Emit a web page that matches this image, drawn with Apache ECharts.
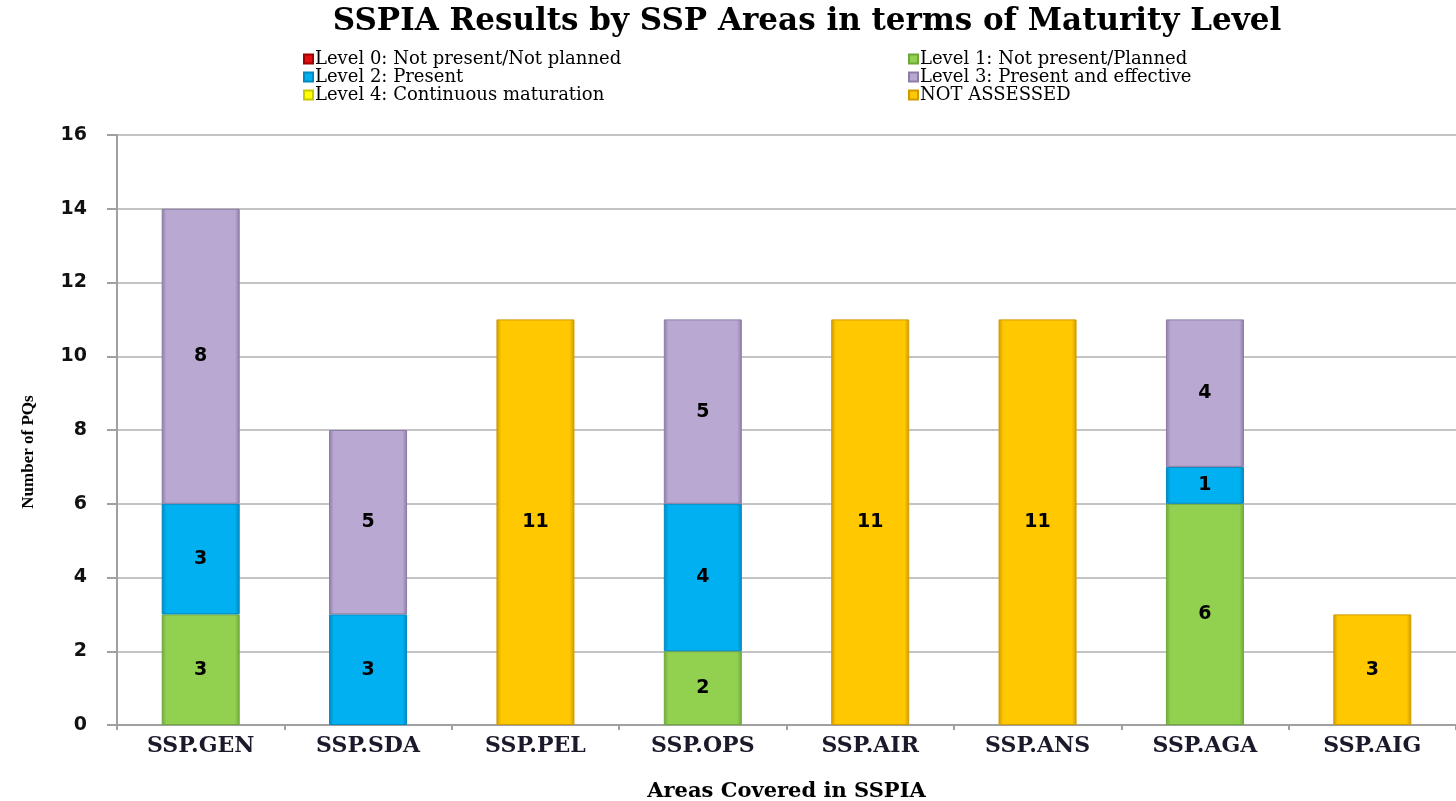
<!DOCTYPE html>
<html>
<head>
<meta charset="utf-8">
<script src="https://cdn.jsdelivr.net/npm/echarts@6/dist/echarts.min.js"></script>
<style>
  html, body { margin: 0; padding: 0; background: #fff; }
  #main { width: 1456px; height: 801px; }
</style>
</head>
<body>
<div id="main"></div>
<script>
var areas = ['SSP.GEN', 'SSP.SDA', 'SSP.PEL', 'SSP.OPS', 'SSP.AIR', 'SSP.ANS', 'SSP.AGA', 'SSP.AIG'];
var level0 = [0, 0, 0, 0, 0, 0, 0, 0];
var level1 = [3, 0, 0, 2, 0, 0, 6, 0];
var level2 = [3, 3, 0, 4, 0, 0, 1, 0];
var level3 = [8, 5, 0, 5, 0, 0, 4, 0];
var level4 = [0, 0, 0, 0, 0, 0, 0, 0];
var notAssessed = [0, 0, 11, 0, 11, 11, 0, 3];

var names = ['Level 0: Not present/Not planned', 'Level 1: Not present/Planned',
  'Level 2: Present', 'Level 3: Present and effective',
  'Level 4: Continuous maturation', 'NOT ASSESSED'];
var colors = ['#E01010', '#92D050', '#00B0F0', '#B9A8D2', '#FFFF00', '#FFC800'];
var edges = ['#A00000', '#6FA83A', '#0088C0', '#8C7CA6', '#C8C800', '#D09A00'];

function bevel(c, e) {
  return new echarts.graphic.LinearGradient(0, 0, 1, 0, [
    { offset: 0, color: e },
    { offset: 0.06, color: c },
    { offset: 0.94, color: c },
    { offset: 1, color: e }
  ]);
}

var allData = [level0, level1, level2, level3, level4, notAssessed];
var series = [];
for (var i = 0; i < 6; i++) {
  series.push({
    name: names[i],
    type: 'bar',
    stack: 'total',
    barWidth: 78,
    // zero counts are left empty so no flat segment is drawn
    data: allData[i].map(function (v) { return v === 0 ? '-' : v; }),
    itemStyle: { color: bevel(colors[i], edges[i]), borderColor: edges[i], borderWidth: 1 },
    label: {
      show: true,
      position: 'inside',
      color: '#000',
      fontFamily: 'DejaVu Sans',
      fontWeight: 'bold',
      fontSize: 19
    }
  });
}

var legendText = { fontFamily: 'DejaVu Serif', fontSize: 18, color: '#000', lineHeight: 17, padding: [0, 0, 0, -3] };

var option = {
  animation: false,
  color: colors,
  title: {
    text: 'SSPIA Results by SSP Areas in terms of Maturity Level',
    left: 802,
    textAlign: 'center',
    top: 1,
    textStyle: { fontFamily: 'DejaVu Serif', fontWeight: 'bold', fontSize: 31, color: '#000' }
  },
  legend: [{
    data: [names[0], names[2], names[4]],
    orient: 'vertical',
    left: 298, top: 45,
    itemWidth: 9, itemHeight: 9, itemGap: 0,
    icon: 'rect',
    textStyle: legendText
  }, {
    data: [names[1], names[3], names[5]],
    orient: 'vertical',
    left: 903, top: 45,
    itemWidth: 9, itemHeight: 9, itemGap: 0,
    icon: 'rect',
    textStyle: legendText
  }],
  grid: { left: 117, right: 0, top: 135, bottom: 76, outerBoundsMode: 'none' },
  xAxis: {
    type: 'category',
    data: areas,
    name: 'Areas Covered in SSPIA',
    nameLocation: 'middle',
    nameGap: 56,
    nameTextStyle: { fontFamily: 'DejaVu Serif', fontWeight: 'bold', fontSize: 21, color: '#000' },
    axisLine: { lineStyle: { color: '#A0A0A0', width: 2 } },
    axisTick: { show: true, length: 5, lineStyle: { color: '#A0A0A0', width: 2 } },
    axisLabel: { fontFamily: 'DejaVu Serif', fontWeight: 'bold', fontSize: 22, color: '#1a1a2a', margin: 10 }
  },
  yAxis: {
    type: 'value',
    min: 0, max: 16, interval: 2,
    name: 'Number of PQs',
    nameLocation: 'middle',
    nameGap: 80,
    nameTextStyle: { fontFamily: 'Liberation Serif', fontWeight: 'bold', fontSize: 17, color: '#000', padding: [0, 44, 0, 0] },
    axisLine: { show: true, lineStyle: { color: '#A0A0A0', width: 2 } },
    axisTick: { show: true, length: 10, lineStyle: { color: '#A0A0A0', width: 2 } },
    splitLine: { lineStyle: { color: '#C4C4C4', width: 2 } },
    axisLabel: { fontFamily: 'DejaVu Sans', fontWeight: 'bold', fontSize: 19, color: '#111', margin: 30 }
  },
  series: series
};

var chart = echarts.init(document.getElementById('main'));
chart.setOption(option);
</script>
</body>
</html>
